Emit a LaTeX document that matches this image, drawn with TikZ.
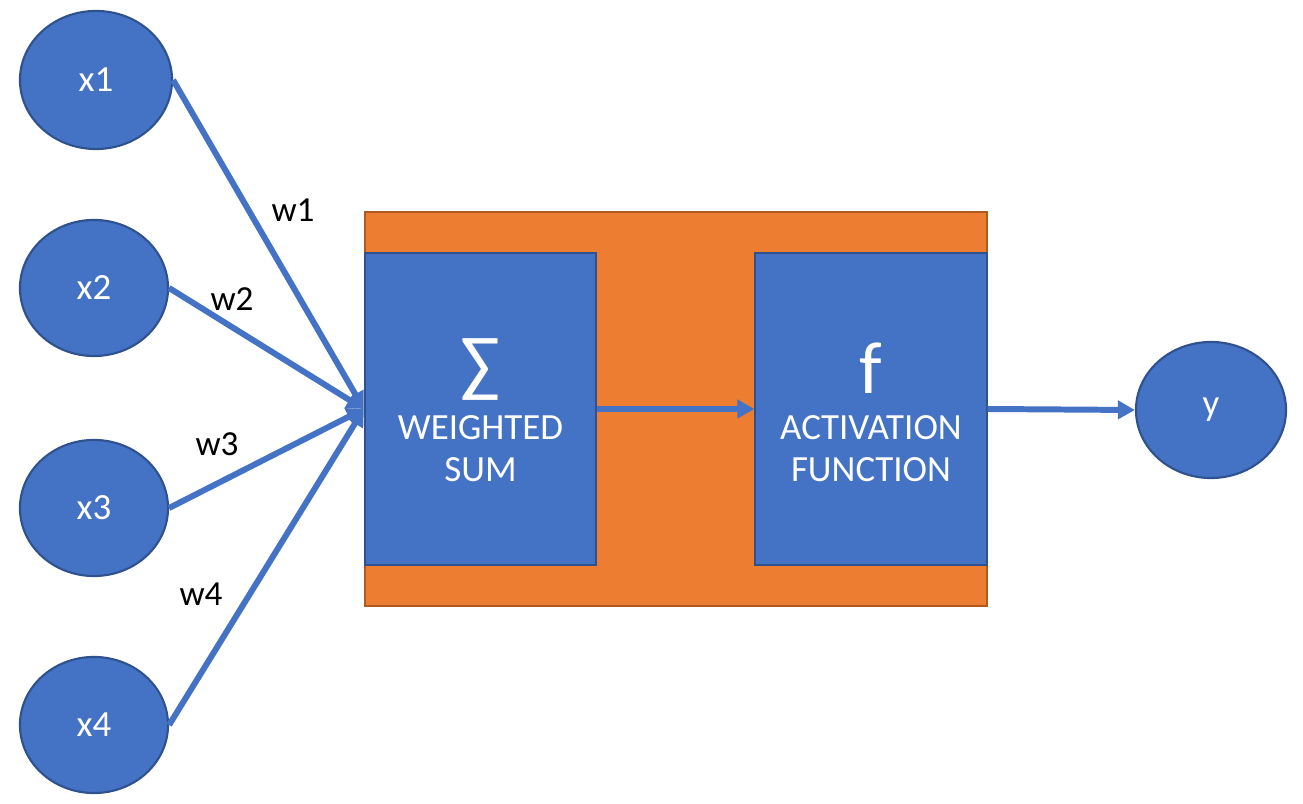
\documentclass[tikz,border=0pt]{standalone}
\usepackage{fontspec}
\setmainfont{Carlito}
\usetikzlibrary{shapes.geometric,arrows.meta,positioning}

\definecolor{nodeBlue}{HTML}{4472C4}
\definecolor{nodeBlueEdge}{HTML}{2F528F}
\definecolor{boxOrange}{HTML}{ED7D31}
\definecolor{boxOrangeEdge}{HTML}{AE5A21}

\begin{document}
\begin{tikzpicture}[
	x=0.01cm, y=-0.01cm,
	font=\fontsize{10.5}{12}\selectfont
	]
\tikzset{
	input/.style = { ellipse, draw=nodeBlueEdge, fill=nodeBlue, line width=0.6pt, text=white, minimum width=1.48cm, minimum height=1.36cm, inner sep=0pt },
	frame/.style = { rectangle, draw=boxOrangeEdge, fill=boxOrange, line width=0.6pt, minimum width=6.22cm, minimum height=3.94cm },
	stage/.style = { rectangle, draw=nodeBlueEdge, fill=nodeBlue, line width=0.6pt, minimum width=2.31cm, minimum height=3.12cm },
	stageText/.style = { text=white, align=center, inner sep=0pt },
	stageSymbol/.style = { text=white, inner sep=0pt, font=\fontsize{21}{24}\selectfont },
	weight/.style = { font=\fontsize{10}{12}\selectfont, inner sep=0pt },
	arrow/.style = { line width=1.7pt, draw=nodeBlue, -{Triangle[length=0.17cm,width=0.18cm]} }
}
	\useasboundingbox (0,0) rectangle (1303,804);

	% inputs
	\node (x1) [input, minimum width=1.52cm, minimum height=1.38cm] at (96,80) {x1};
	\node (x2) [input] at (94,288) {x2};
	\node (x3) [input] at (94,508) {x3};
	\node (x4) [input] at (94,725) {x4};

	% neuron
	\node (neuron) [frame] at (676,409) {};
	\node (wsum) [stage] at (480.5,409) {};
	\node (wsumSymbol) [stageSymbol] at (480.5,370) {∑};
	\node (wsumText) [stageText] at (480.5,449) {WEIGHTED\\SUM};
	\node (act) [stage] at (871,409) {};
	\node (actSymbol) [stageSymbol] at (871,368) {f};
	\node (actText) [stageText] at (871,449) {ACTIVATION\\FUNCTION};

	% output
	\node (y) [input, minimum width=1.5cm] at (1211,410) {y};

	% weights
	\node (w1) [weight] at (293,210) {w1};
	\node (w2) [weight] at (232,299) {w2};
	\node (w3) [weight] at (217,444) {w3};
	\node (w4) [weight] at (201,594) {w4};

	% paths
	\draw [arrow] (x1.east) -- (wsum.west);
	\draw [arrow] (x2.east) -- (wsum.west);
	\draw [arrow] (x3.east) -- (wsum.west);
	\draw [arrow] (x4.east) -- (wsum.west);
	\draw [arrow] (wsum.east) -- (act.west);
	\draw [arrow] (act.east) -- (y.west);
\end{tikzpicture}
\end{document}
